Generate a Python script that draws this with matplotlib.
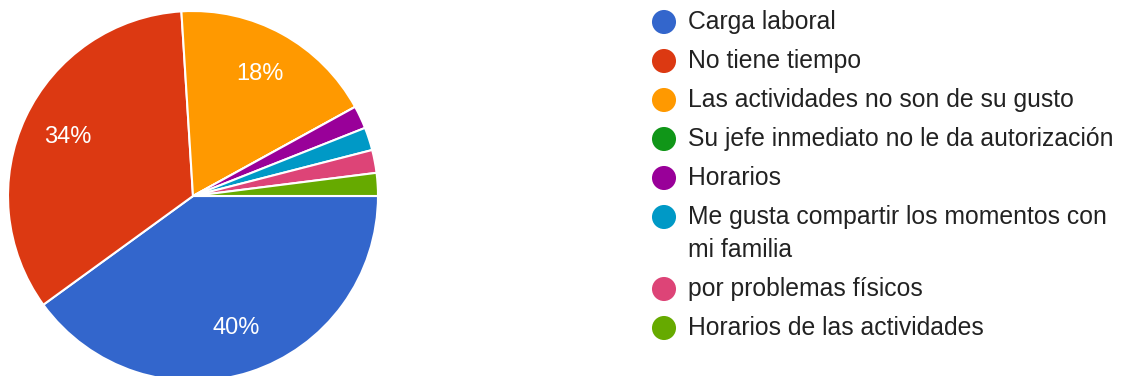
import matplotlib
matplotlib.use("Agg")

import matplotlib.pyplot as plt

labels = [
    "Carga laboral",
    "No tiene tiempo",
    "Las actividades no son de su gusto",
    "Su jefe inmediato no le da autorización",
    "Horarios",
    "Me gusta compartir los momentos con\nmi familia",
    "por problemas físicos",
    "Horarios de las actividades",
]
counts = [20, 17, 9, 0, 1, 1, 1, 1]
colors = ["#3366cc", "#dc3912", "#ff9900", "#109618",
          "#990099", "#0099c6", "#dd4477", "#66aa00"]

W, H = 1123, 376
plt.rcParams["font.family"] = ["Liberation Sans", "DejaVu Sans"]

fig = plt.figure(figsize=(W / 100, H / 100), dpi=100)

# pie, starts at 3 o'clock and runs clockwise
cx, cy, r = 193, 196, 185
ax = fig.add_axes([(cx - r) / W, 1 - (cy + r) / H, 2 * r / W, 2 * r / H])


def pct_label(p):
    return f"{p:.0f}%" if p >= 5 else ""


wedges, _, autotexts = ax.pie(
    counts, colors=colors, startangle=0, counterclock=False,
    autopct=pct_label, pctdistance=0.75,
    wedgeprops=dict(edgecolor="white", linewidth=1.5),
    textprops=dict(color="white", fontsize=17),
)
ax.set_xlim(-1, 1)
ax.set_ylim(-1, 1)
ax.set_aspect("equal")

# legend drawn on a pixel-space overlay
lax = fig.add_axes([0, 0, 1, 1])
lax.set_xlim(0, W)
lax.set_ylim(H, 0)
lax.axis("off")

y = 22
for lab, col in zip(labels, colors):
    lax.scatter([664], [y], s=300, color=col, edgecolors="none")
    for i, line in enumerate(lab.split("\n")):
        lax.text(688, y + i * 33, line, fontsize=17.8, color="#222222",
                 va="center", ha="left")
    y += 39 + 33 * lab.count("\n")

fig.savefig("out.png", dpi=100)
